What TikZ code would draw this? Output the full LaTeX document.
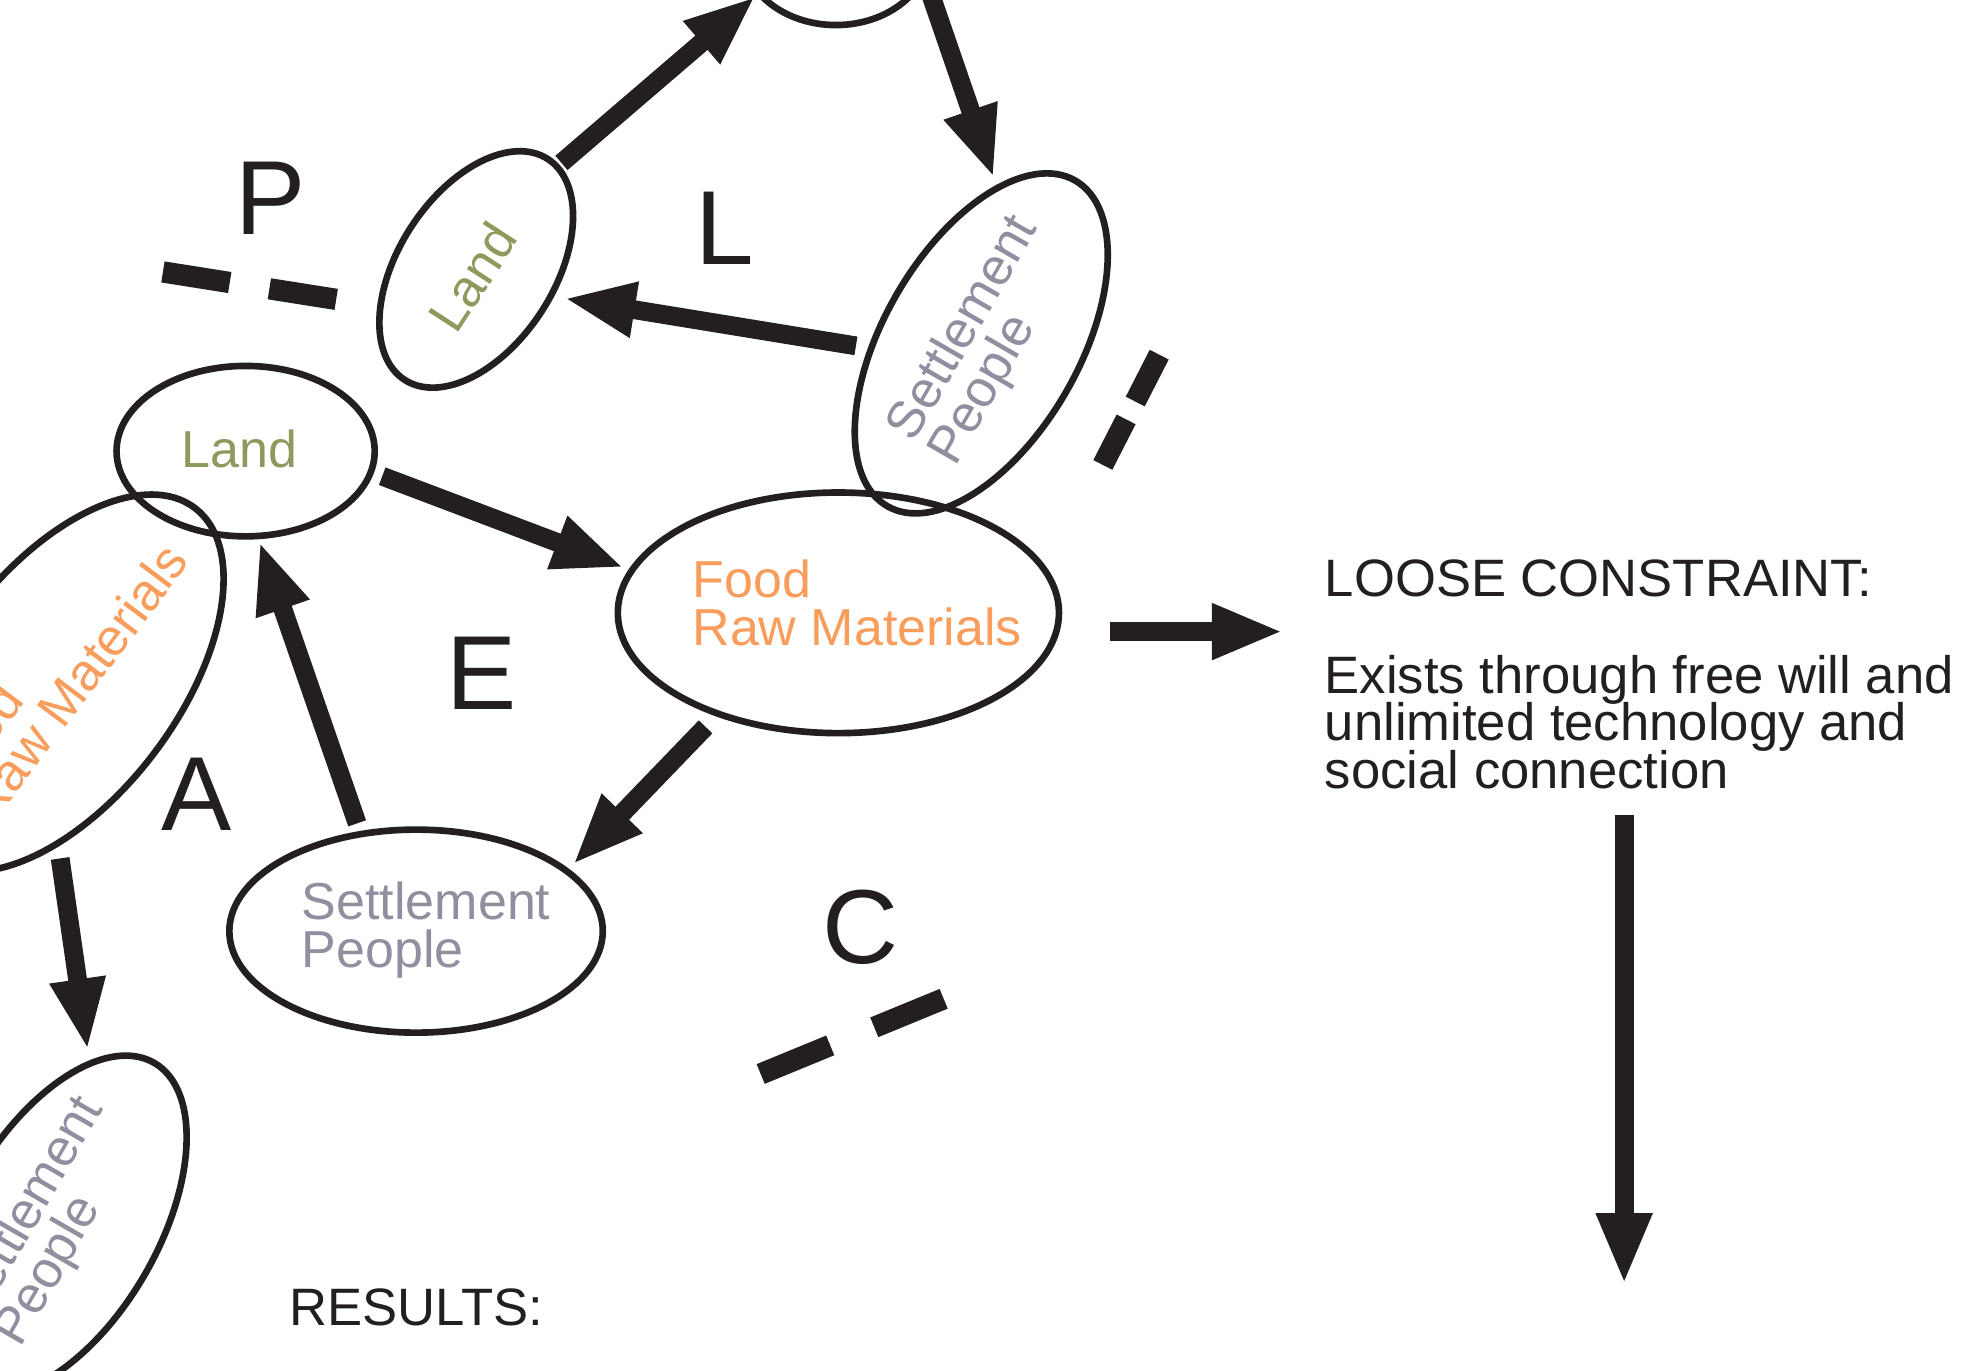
\documentclass[tikz,border=0pt]{standalone}
\usepackage{fontspec}
\setmainfont{Liberation Sans}
\usetikzlibrary{arrows.meta,shapes.geometric}
\definecolor{ink}{HTML}{231F20}
\definecolor{landc}{HTML}{8C9A5E}
\definecolor{foodc}{HTML}{F99D5C}
\definecolor{setc}{HTML}{8F8F9F}
\begin{document}
\begin{tikzpicture}[x=1pt,y=-1pt,
  ell/.style={draw=ink, line width=5.3pt, ellipse, inner sep=0pt},
  lab/.style={inner sep=0pt, align=left, font=\fontsize{41.5}{38}\selectfont},
  arr/.style={draw=ink, line width=15pt, -{Triangle[length=57pt,width=41pt]}},
  big/.style={anchor=base, text=ink, font=\fontsize{84}{84}\selectfont, inner sep=0pt},
  txt/.style={anchor=base west, text=ink, font=\fontsize{42}{38}\selectfont, inner sep=0pt},
  dsh/.style={draw=ink, line width=17pt}
]
\useasboundingbox (0,0) rectangle (1568,1094);
\clip (0,0) rectangle (1568,1094);

% ellipses
\node[ell, minimum width=150pt, minimum height=120pt] (top) at (667,-40) {};
\node[ell, rotate=57, minimum width=210pt, minimum height=124pt] (land2) at (380,215) {};
\node[ell, rotate=60, minimum width=300pt, minimum height=156pt] (set2) at (783,274) {};
\node[ell, minimum width=206pt, minimum height=136pt] (land1) at (196,360) {};
\node[ell, minimum width=352pt, minimum height=192pt] (food1) at (669,489) {};
\node[ell, rotate=53, minimum width=350pt, minimum height=184pt] (food2) at (50,545) {};
\node[ell, minimum width=298pt, minimum height=162pt] (set1) at (332,743) {};
\node[ell, rotate=60, minimum width=300pt, minimum height=156pt] (set3) at (48,978) {};

% ellipse texts
\node[lab, rotate=57, text=landc] (land2t) at (377,221) {Land};
\node[lab, rotate=60, text=setc] (set2t) at (786,272) {Settlement\\People};
\node[lab, text=landc] (land1t) at (191,358) {Land};
\node[lab, text=foodc] (food1t) at (684,481) {Food\\Raw Materials};
\node[lab, rotate=53, text=foodc] (food2t) at (46,533) {Food\\Raw Materials};
\node[lab, text=setc] (set1t) at (340,742) {Settlement\\People};
\node[lab, rotate=60, text=setc] (set3t) at (40,975) {Settlement\\People};

% letters
\node[big] (P) at (216,187) {P};
\node[big] (L) at (578,211) {L};
\node[big] (E) at (384,566) {E};
\node[big] (A) at (157,663) {A};
\node[big] (C) at (687,769) {C};

% texts
\node[txt] (loose) at (1057,476) {LOOSE CONSTRAINT:};
\node[txt] (ex1) at (1057,553) {Exists through free will and};
\node[txt] (ex2) at (1057,591) {unlimited technology and};
\node[txt] (ex3) at (1057,629) {social connection};
\node[txt] (results) at (231,1058) {RESULTS:};
\coordinate (down) at (1296,1025);

% arrows
\draw[arr] ([shift={(68,-85)}]land2.center) -- ([shift={(-64,37)}]top.center);
\draw[arr] ([shift={(73,28)}]top.center) -- ([shift={(10,-132)}]set2.center);
\draw[arr] ([shift={(-100,2)}]set2.center) -- ([shift={(70,23)}]land2.center);
\draw[arr] ([shift={(109,20)}]land1.center) -- ([shift={(-171,-36)}]food1.center);
\draw[arr] ([shift={(-106,91)}]food1.center) -- ([shift={(125,-53)}]set1.center);
\draw[arr] ([shift={(-47,-86)}]set1.center) -- ([shift={(11,72)}]land1.center);
\draw[arr] ([shift={(-2,140)}]food2.center) -- ([shift={(22,-140)}]set3.center);
\draw[arr] ([shift={(217,15)}]food1.center) -- ([shift={(-33,28)}]loose.base west);
\draw[arr] ([shift={(239,21)}]ex3.base west) -- (down);

% dashed marks
\draw[dsh, dash pattern=on 54pt off 32pt] (130,217) -- (269,239);
\draw[dsh, dash pattern=on 42pt off 16pt] (925,283) -- (880,371);
\draw[dsh, dash pattern=on 60pt off 38pt] (607,857) -- (753,797);
\end{tikzpicture}
\end{document}
